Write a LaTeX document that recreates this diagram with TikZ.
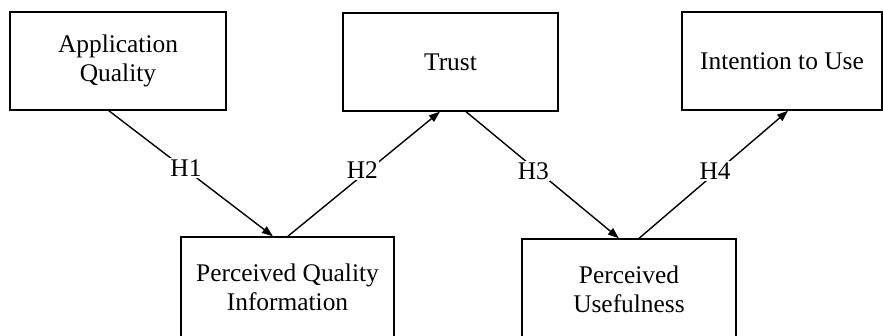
\documentclass[tikz,border=0pt]{standalone}
\usepackage{fontspec}
\setmainfont{Liberation Serif}
\usetikzlibrary{arrows.meta,calc}
\begin{document}
\begin{tikzpicture}[x=1pt,y=-1pt,
  box/.style={draw,line width=1.5pt,minimum width=#1,minimum height=98pt,
    align=center,inner sep=0pt,font=\fontsize{25.4}{29}\selectfont},
  link/.style={line width=1.4pt,-{Triangle[length=11pt,width=8pt]}},
  hyp/.style={fill=white,inner sep=1.5pt,font=\fontsize{25.4}{29}\selectfont}]
\useasboundingbox (0,0) rectangle (883,336);
\clip (0,0) rectangle (883,336);

% constructs
\node[box=216pt] (aq) at (118,61) {Application\\Quality};
\node[box=215pt] (tr) at (450.5,62) {Trust};
\node[box=200pt] (iu) at (782,61) {Intention to Use};
\node[box=213pt,minimum height=100pt] (pqi) at (287.5,287) {Perceived Quality\\Information};
\node[box=214pt,minimum height=100pt] (pu) at (629,289) {Perceived\\Usefulness};

% hypothesised paths
\draw[link] ($(aq.south west)!0.458!(aq.south east)$)
  -- node[hyp,pos=0.47,yshift=1.5pt] {H1} ($(pqi.north west)!0.432!(pqi.north east)$);
\draw[link] ($(pqi.north west)!0.502!(pqi.north east)$)
  -- node[hyp,pos=0.49,yshift=5pt] {H2} ($(tr.south west)!0.451!(tr.south east)$);
\draw[link] ($(tr.south west)!0.572!(tr.south east)$)
  -- node[hyp,pos=0.44,yshift=-4pt] {H3} ($(pu.north west)!0.453!(pu.north east)$);
\draw[link] ($(pu.north west)!0.547!(pu.north east)$)
  -- node[hyp,pos=0.51,yshift=2pt] {H4} ($(iu.south west)!0.53!(iu.south east)$);
\end{tikzpicture}
\end{document}
